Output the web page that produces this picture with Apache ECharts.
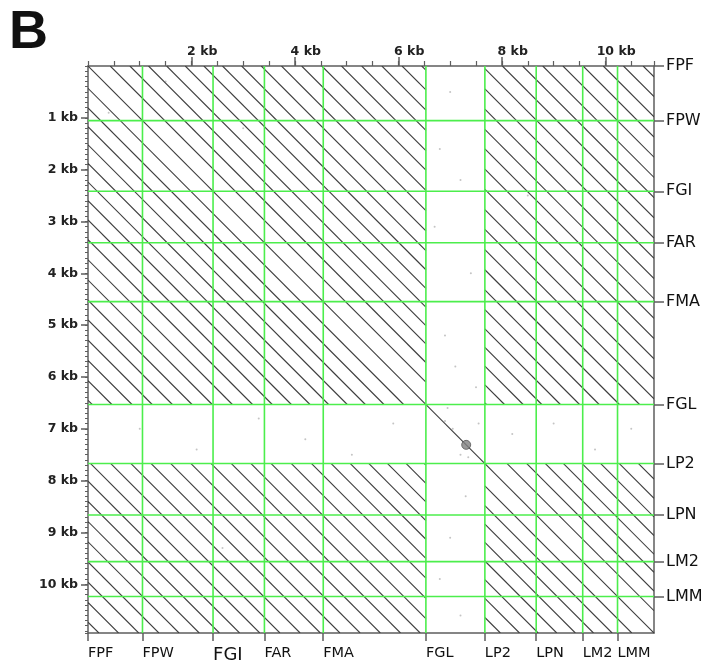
<!DOCTYPE html>
<html>
<head>
<meta charset="utf-8">
<script src="https://cdn.jsdelivr.net/npm/echarts@6/dist/echarts.min.js"></script>
<style>
html,body{margin:0;padding:0;background:#fff;}
#chart{width:723px;height:667px;}
</style>
</head>
<body>
<div id="chart"></div>
<script>
// ---- data ----
const segNames = ['FPF','FPW','FGI','FAR','FMA','FGL','LP2','LPN','LM2','LMM'];
const segStartsKb = [0, 1.053, 2.417, 3.41, 4.547, 6.531, 7.671, 8.663, 9.562, 10.235];
const totalKb = 10.94;
const gapSegment = 'FGL';            // segment without the repeat (no diagonals except self)
const leftTicksKb = [1,2,3,4,5,6,7,8,9,10];
const topTicksKb = [2,4,6,8,10];
// x - y offsets (kb) of the repeat diagonals crossing the top edge (mirrored below)
const repeatOffsetsKb = [0, 0.43, 0.81, 1.17, 1.52, 1.88, 2.24, 2.60, 2.97, 3.35, 3.74, 4.13,
  4.52, 4.90, 5.29, 5.68, 6.07, 6.45, 6.84, 7.23, 7.62, 8.01, 8.40, 8.79, 9.18, 9.57, 9.96, 10.35, 10.73];
const blobPoint = [[7.31, 7.31]];
const noiseDots = [[6.8,1.6],[7.0,0.5],[7.2,2.2],[6.7,3.1],[7.4,4.0],[6.9,5.2],[7.1,5.8],[7.5,6.2],
  [7.3,8.3],[7.0,9.1],[6.8,9.9],[7.2,10.6],[1.0,7.0],[2.1,7.4],[3.3,6.8],[4.2,7.2],[5.1,7.5],
  [5.9,6.9],[8.2,7.1],[9.0,6.9],[9.8,7.4],[10.5,7.0],[7.2,7.5],[7.35,7.55],[6.9,6.85],[6.95,6.6],
  [7.05,7.0],[7.55,6.9],[0.4,0.9],[1.5,0.3],[3.0,1.2],[8.5,2.5],[9.6,5.5],[2.6,9.3]];

// ---- derived geometry ----
const gi = segNames.indexOf(gapSegment);
const g0 = segStartsKb[gi], g1 = segStartsKb[gi + 1];
const innerBounds = segStartsKb.slice(1);

function clipDiag(d) {
  // line x = y + d (d>=0); returns list of [x1,y1,x2,y2]
  const yEnd = totalKb - d;
  let cuts = [];
  if (d !== 0) {
    cuts.push([g0, g1]);          // y in gap
    cuts.push([g0 - d, g1 - d]);  // x in gap
  }
  cuts.sort((a,b)=>a[0]-b[0]);
  let segs = [], cur = 0;
  cuts.forEach(([a,b]) => {
    a = Math.max(a, 0); b = Math.min(b, yEnd);
    if (b <= a) return;
    if (a > cur) segs.push([cur, a]);
    cur = Math.max(cur, b);
  });
  if (cur < yEnd) segs.push([cur, yEnd]);
  return segs.map(([y1,y2]) => [y1 + d, y1, y2 + d, y2]);
}
const diagSegs = [];
repeatOffsetsKb.forEach(d => {
  clipDiag(d).forEach(s => {
    diagSegs.push(s);
    if (d !== 0) diagSegs.push([s[1], s[0], s[3], s[2]]);
  });
});

const axisColor = '#5e5e5e';
const font = 'DejaVu Sans';

const chart = echarts.init(document.getElementById('chart'), null, {renderer: 'canvas'});
const option = {
  animation: false,
  backgroundColor: '#fff',
  graphic: [{
    type: 'text', left: 9, top: 6,
    style: {text: 'B', font: 'bold 54px "Liberation Sans"', fill: '#111'}
  }],
  grid: {left: 88, top: 66, width: 566, height: 567, show: false},
  xAxis: [
    { type: 'value', position: 'top', min: 0, max: totalKb, interval: 0.5,
      axisLine: {show: true, onZero: false, lineStyle: {color: axisColor, width: 1.5}},
      axisTick: {show: true, length: 5, lineStyle: {color: axisColor, width: 1.2}},
      axisLabel: {show: false}, splitLine: {show: false} },
    { type: 'value', position: 'top', min: 0, max: totalKb,
      axisLine: {show: false, onZero: false},
      axisTick: {show: true, length: 9, customValues: topTicksKb, lineStyle: {color: axisColor, width: 1.5}},
      axisLabel: {show: true, customValues: topTicksKb, margin: 8,
        formatter: v => '{h| kb}{n|' + v + ' kb}',
        rich: {h: {color: 'transparent', fontFamily: font, fontWeight: 'bold', fontSize: 12.5},
               n: {color: '#222', fontFamily: font, fontWeight: 'bold', fontSize: 12.5}}},
      splitLine: {show: false} },
    { type: 'value', position: 'bottom', min: 0, max: totalKb,
      axisLine: {show: true, onZero: false, lineStyle: {color: axisColor, width: 1.5}},
      axisTick: {show: true, length: 8, customValues: segStartsKb, lineStyle: {color: axisColor, width: 1.5}},
      axisLabel: {show: true, customValues: segStartsKb, margin: 13, align: 'left',
        formatter: v => {
          const n = segNames[segStartsKb.indexOf(v)];
          return n === 'FGI' ? '{b|' + n + '}' : '{a|' + n + '}';
        },
        rich: {a: {color: '#111', fontFamily: font, fontSize: 14.5},
               b: {color: '#111', fontFamily: font, fontSize: 18}}},
      splitLine: {show: false} }
  ],
  yAxis: [
    { type: 'value', position: 'left', inverse: true, min: 0, max: totalKb, interval: 0.1,
      axisLine: {show: true, onZero: false, lineStyle: {color: axisColor, width: 1.5}},
      axisTick: {show: true, length: 3, lineStyle: {color: axisColor, width: 1}},
      axisLabel: {show: false}, splitLine: {show: false} },
    { type: 'value', position: 'left', inverse: true, min: 0, max: totalKb,
      axisLine: {show: false, onZero: false},
      axisTick: {show: true, length: 7, customValues: leftTicksKb, lineStyle: {color: axisColor, width: 1.5}},
      axisLabel: {show: true, customValues: leftTicksKb, margin: 10, formatter: v => v + ' kb',
        color: '#222', fontFamily: font, fontWeight: 'bold', fontSize: 12.5},
      splitLine: {show: false} },
    { type: 'value', position: 'right', inverse: true, min: 0, max: totalKb,
      axisLine: {show: true, onZero: false, lineStyle: {color: axisColor, width: 1.5}},
      axisTick: {show: true, length: 10, customValues: segStartsKb, lineStyle: {color: axisColor, width: 1.5}},
      axisLabel: {show: true, customValues: segStartsKb, margin: 12, align: 'left',
        formatter: v => segNames[segStartsKb.indexOf(v)],
        color: '#111', fontFamily: font, fontSize: 16},
      splitLine: {show: false} }
  ],
  series: [
    { type: 'scatter', xAxisIndex: 0, yAxisIndex: 0, data: noiseDots, symbolSize: 2,
      itemStyle: {color: '#b5b5b5'}, silent: true, z: 1 },
    { type: 'custom', xAxisIndex: 0, yAxisIndex: 0, data: diagSegs, silent: true, z: 2,
      clip: true,
      renderItem: (params, api) => {
        const p1 = api.coord([api.value(0), api.value(1)]);
        const p2 = api.coord([api.value(2), api.value(3)]);
        return {type: 'line', shape: {x1: p1[0], y1: p1[1], x2: p2[0], y2: p2[1]},
          style: {stroke: '#3c3c3c', lineWidth: 1.1}};
      },
      encode: {x: [0, 2], y: [1, 3]} },
    { type: 'scatter', xAxisIndex: 0, yAxisIndex: 0, data: blobPoint, symbol: 'circle', symbolSize: 9,
      itemStyle: {color: '#808080', borderColor: '#555', borderWidth: 1}, silent: true, z: 3 },
    { type: 'custom', xAxisIndex: 0, yAxisIndex: 0, data: innerBounds.map(b => [b]), silent: true, z: 4,
      renderItem: (params, api) => {
        const b = api.value(0);
        const v1 = api.coord([b, 0]), v2 = api.coord([b, totalKb]);
        const h1 = api.coord([0, b]), h2 = api.coord([totalKb, b]);
        return {type: 'group', children: [
          {type: 'line', shape: {x1: v1[0], y1: v1[1], x2: v2[0], y2: v2[1]}, style: {stroke: '#4cee4c', lineWidth: 1.6}},
          {type: 'line', shape: {x1: h1[0], y1: h1[1], x2: h2[0], y2: h2[1]}, style: {stroke: '#4cee4c', lineWidth: 1.6}}
        ]};
      },
      encode: {x: 0} }
  ]
};
chart.setOption(option);
</script>
</body>
</html>
